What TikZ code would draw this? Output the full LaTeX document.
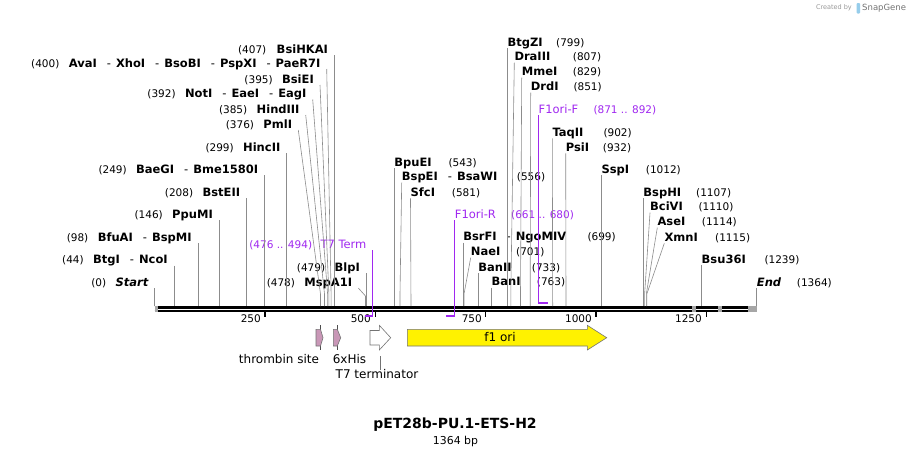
\documentclass[tikz,border=0pt]{standalone}
\usepackage{fontspec}
\setmainfont{DejaVu Sans}
\usetikzlibrary{positioning}

\definecolor{cutgray}{RGB}{140,140,140}
\definecolor{primer}{RGB}{160,40,240}
\definecolor{tagpink}{RGB}{201,151,183}
\definecolor{logoblue}{RGB}{150,205,235}

\newcommand{\sepdash}{\hspace{10pt}{\mdseries -}\hspace{5pt}}

\tikzset{
	enz/.style={inner sep=0pt, text height=8.5pt, text depth=0pt, font=\fontsize{11.5}{13}\selectfont\bfseries},
	num/.style={inner sep=0pt, text height=8.5pt, text depth=0pt, font=\fontsize{10.5}{12}\selectfont},
	prm/.style={inner sep=0pt, text height=8.5pt, text depth=0pt, text=primer, font=\fontsize{11.5}{13}\selectfont},
	cut/.style={draw=cutgray, line width=0.6pt},
	prmline/.style={draw=primer, line width=1.1pt},
	feat/.style={draw=black!55, line width=0.6pt},
	flabel/.style={inner sep=0pt, font=\fontsize{12}{14}\selectfont},
}

\begin{document}
\begin{tikzpicture}[x=1pt,y=-1pt]
	
	\fill[white] (0,0) rectangle (912,456);
	\useasboundingbox (0,0) rectangle (912,456);
	
	% sites on the sequence
	\coordinate (s0) at (154.5,306);
	\coordinate (s44) at (173.9,306);
	\coordinate (s98) at (197.8,306);
	\coordinate (s146) at (219.0,306);
	\coordinate (s208) at (246.3,306);
	\coordinate (s249) at (264.4,306);
	\coordinate (s299) at (286.5,306);
	\coordinate (s376) at (320.5,306);
	\coordinate (s385) at (324.5,306);
	\coordinate (s392) at (327.6,306);
	\coordinate (s395) at (328.9,306);
	\coordinate (s400) at (331.1,306);
	\coordinate (s407) at (334.2,306);
	\coordinate (s478) at (365.5,306);
	\coordinate (s479) at (366.0,306);
	\coordinate (s543) at (394.2,306);
	\coordinate (s556) at (400.0,306);
	\coordinate (s581) at (411.0,306);
	\coordinate (s699) at (463.1,306);
	\coordinate (s701) at (464.0,306);
	\coordinate (s733) at (478.1,306);
	\coordinate (s763) at (491.4,306);
	\coordinate (s799) at (507.3,306);
	\coordinate (s807) at (510.8,306);
	\coordinate (s829) at (520.5,306);
	\coordinate (s851) at (530.2,306);
	\coordinate (s902) at (552.7,306);
	\coordinate (s932) at (566.0,306);
	\coordinate (s1012) at (601.3,306);
	\coordinate (s1107) at (643.2,306);
	\coordinate (s1110) at (644.6,306);
	\coordinate (s1114) at (646.3,306);
	\coordinate (s1115) at (646.8,306);
	\coordinate (s1239) at (701.5,306);
	\coordinate (s1364) at (756.7,306);
	
	% primer ends
	\coordinate (t7a) at (364.7,316);
	\coordinate (t7b) at (372.6,316);
	\coordinate (fra) at (446.3,316);
	\coordinate (frb) at (454.7,316);
	\coordinate (ffa) at (538.5,303);
	\coordinate (ffb) at (548.3,303);
	
	% the sequence
	\draw[line width=2.4pt] (154.5,307.3) -- (756.9,307.3);
	\draw[line width=2.3pt] (154.5,311.2) -- (756.9,311.2);
	\fill[black!35] (154.5,306) rectangle (157.5,312.4);
	\fill[black!35] (692.3,306) rectangle (696,312.4);
	\fill[black!35] (718.3,306) rectangle (721.7,312.4);
	\fill[black!35] (748.3,306) rectangle (756.9,312.4);
	
	% ticks
	\draw[line width=1.5pt] (264.9,311.5) -- (264.9,317);
	\draw[line width=1.5pt] (375.3,311.5) -- (375.3,317);
	\draw[line width=1.5pt] (485.6,311.5) -- (485.6,317);
	\draw[line width=1.5pt] (596.0,311.5) -- (596.0,317);
	\draw[line width=1.5pt] (706.4,311.5) -- (706.4,317);
	\node[num, anchor=east] (t250) at (261,318.5) {250};
	\node[num, anchor=east] (t500) at (371,318.5) {500};
	\node[num, anchor=east] (t750) at (482,318.5) {750};
	\node[num, anchor=east] (t1000) at (592,318.5) {1000};
	\node[num, anchor=east] (t1250) at (702,318.5) {1250};
	
	% L: sites left of their line
	\node[enz, anchor=east] (n407) at (328.2,49) {BsiHKAI};
	\node[num, left=10pt of n407] (p407) {(407)};
	\node[enz, anchor=east] (n400) at (320.7,63) {AvaI\sepdash XhoI\sepdash BsoBI\sepdash PspXI\sepdash PaeR7I};
	\node[num, left=9pt of n400] (p400) {(400)};
	\node[enz, anchor=east] (n395) at (314,79) {BsiEI};
	\node[num, left=9pt of n395] (p395) {(395)};
	\node[enz, anchor=east] (n392) at (306.7,93.5) {NotI\sepdash EaeI\sepdash EagI};
	\node[num, left=9pt of n392] (p392) {(392)};
	\node[enz, anchor=east] (n385) at (299.7,109) {HindIII};
	\node[num, left=9pt of n385] (p385) {(385)};
	\node[enz, anchor=east] (n376) at (292.3,124) {PmlI};
	\node[num, left=9pt of n376] (p376) {(376)};
	\node[enz, anchor=east] (n299) at (280.5,147) {HincII};
	\node[num, left=9pt of n299] (p299) {(299)};
	\node[enz, anchor=east] (n249) at (258.4,169) {BaeGI\sepdash Bme1580I};
	\node[num, left=9pt of n249] (p249) {(249)};
	\node[enz, anchor=east] (n208) at (240.3,192) {BstEII};
	\node[num, left=9pt of n208] (p208) {(208)};
	\node[enz, anchor=east] (n146) at (213,214) {PpuMI};
	\node[num, left=9pt of n146] (p146) {(146)};
	\node[enz, anchor=east] (n98) at (191.8,237) {BfuAI\sepdash BspMI};
	\node[num, left=9pt of n98] (p98) {(98)};
	\node[enz, anchor=east] (n44) at (167.9,259.5) {BtgI\sepdash NcoI};
	\node[num, left=9pt of n44] (p44) {(44)};
	\node[enz, anchor=east] (n0) at (148.5,282) {\itshape Start};
	\node[num, left=9pt of n0] (p0) {(0)};
	\node[enz, anchor=east] (n478) at (352.3,282) {MspA1I};
	\node[num, left=9pt of n478] (p478) {(478)};
	\node[enz, anchor=east] (n479) at (360,267) {BlpI};
	\node[num, left=9pt of n479] (p479) {(479)};
	\node[prm, anchor=east] (t7term) at (366.6,244) {T7 Term};
	\node[prm, font=\fontsize{10.5}{12}\selectfont, left=8pt of t7term] (t7pos) {(476 .. 494)};
	
	\draw[cut] ([xshift=6pt,yshift=-6pt]n407.east) -- (s407);
	\draw[cut] ([xshift=6pt,yshift=-6pt]n400.east) -- ([yshift=12pt]s400) -- (s400);
	\draw[cut] ([xshift=6pt,yshift=-6pt]n395.east) -- ([yshift=12pt]s395) -- (s395);
	\draw[cut] ([xshift=6pt,yshift=-6pt]n392.east) -- ([yshift=12pt]s392) -- (s392);
	\draw[cut] ([xshift=6pt,yshift=-6pt]n385.east) -- ([yshift=12pt]s385) -- (s385);
	\draw[cut] ([xshift=6pt,yshift=-6pt]n376.east) -- ([yshift=12pt]s376) -- (s376);
	\draw[cut] ([xshift=6pt,yshift=-6pt]n299.east) -- (s299);
	\draw[cut] ([xshift=6pt,yshift=-6pt]n249.east) -- (s249);
	\draw[cut] ([xshift=6pt,yshift=-6pt]n208.east) -- (s208);
	\draw[cut] ([xshift=6pt,yshift=-6pt]n146.east) -- (s146);
	\draw[cut] ([xshift=6pt,yshift=-6pt]n98.east) -- (s98);
	\draw[cut] ([xshift=6pt,yshift=-6pt]n44.east) -- (s44);
	\draw[cut] ([xshift=6pt,yshift=-6pt]n0.east) -- (s0);
	\draw[cut] ([xshift=6pt,yshift=-6pt]n478.east) -- ([yshift=10pt]s478) -- (s478);
	\draw[cut] ([xshift=6pt,yshift=-6pt]n479.east) -- (s479);
	\draw[prmline] ([xshift=6pt,yshift=-6pt]t7term.east) -- (t7b);
	\draw[primer, line width=2pt] (t7a) -- ([xshift=0.55pt]t7b);
	
	% R: sites right of their line
	\node[enz, anchor=west] (n799) at (507.3,42.3) {BtgZI};
	\node[num, anchor=west] (p799) at (556,42.3) {(799)};
	\node[enz, anchor=west] (n807) at (514.3,56.7) {DraIII};
	\node[num, anchor=west] (p807) at (572.7,56.7) {(807)};
	\node[enz, anchor=west] (n829) at (521.7,71.7) {MmeI};
	\node[num, anchor=west] (p829) at (572.7,71.7) {(829)};
	\node[enz, anchor=west] (n851) at (530.7,86.7) {DrdI};
	\node[num, anchor=west] (p851) at (573.3,86.7) {(851)};
	\node[prm, anchor=west] (f1f) at (538.5,109) {F1ori-F};
	\node[prm, font=\fontsize{10.5}{12}\selectfont, anchor=west] (f1fpos) at (593.3,109) {(871 .. 892)};
	\node[enz, anchor=west] (n902) at (552.3,132.3) {TaqII};
	\node[num, anchor=west] (p902) at (603.3,132.3) {(902)};
	\node[enz, anchor=west] (n932) at (565.7,147.3) {PsiI};
	\node[num, anchor=west] (p932) at (602.7,147.3) {(932)};
	\node[enz, anchor=west] (n1012) at (601.3,169) {SspI};
	\node[num, anchor=west] (p1012) at (645.7,169) {(1012)};
	\node[enz, anchor=west] (n543) at (394.2,162.3) {BpuEI};
	\node[num, anchor=west] (p543) at (448.3,162.3) {(543)};
	\node[enz, anchor=west] (n556) at (401.7,176.7) {BspEI\sepdash BsaWI};
	\node[num, anchor=west] (p556) at (516.7,176.7) {(556)};
	\node[enz, anchor=west] (n581) at (410.5,192.3) {SfcI};
	\node[num, anchor=west] (p581) at (451.7,192.3) {(581)};
	\node[prm, anchor=west] (f1r) at (454.7,214) {F1ori-R};
	\node[prm, font=\fontsize{10.5}{12}\selectfont, anchor=west] (f1rpos) at (511,214) {(661 .. 680)};
	\node[enz, anchor=west] (n699) at (463.1,236.7) {BsrFI\sepdash NgoMIV};
	\node[num, anchor=west] (p699) at (587.3,236.7) {(699)};
	\node[enz, anchor=west] (n701) at (470.7,251.7) {NaeI};
	\node[num, anchor=west] (p701) at (516,251.7) {(701)};
	\node[enz, anchor=west] (n733) at (478.1,267.3) {BanII};
	\node[num, anchor=west] (p733) at (531.7,267.3) {(733)};
	\node[enz, anchor=west] (n763) at (491.4,281.7) {BanI};
	\node[num, anchor=west] (p763) at (536.7,281.7) {(763)};
	\node[enz, anchor=west] (n1107) at (643.2,192.3) {BspHI};
	\node[num, anchor=west] (p1107) at (696,192.3) {(1107)};
	\node[enz, anchor=west] (n1110) at (650,206.7) {BciVI};
	\node[num, anchor=west] (p1110) at (698.3,206.7) {(1110)};
	\node[enz, anchor=west] (n1114) at (657.3,221.7) {AseI};
	\node[num, anchor=west] (p1114) at (701.7,221.7) {(1114)};
	\node[enz, anchor=west] (n1115) at (664.3,237.3) {XmnI};
	\node[num, anchor=west] (p1115) at (715,237.3) {(1115)};
	\node[enz, anchor=west] (n1239) at (701.5,259) {Bsu36I};
	\node[num, anchor=west] (p1239) at (764.3,259) {(1239)};
	\node[enz, anchor=west] (n1364) at (756.7,282.3) {\itshape End};
	\node[num, anchor=west] (p1364) at (796.7,282.3) {(1364)};
	
	\draw[cut] ([yshift=-6pt]n799.west) -- (s799);
	\draw[cut] ([yshift=-6pt]n807.west) -- ([yshift=12pt]s807) -- (s807);
	\draw[cut] ([yshift=-6pt]n829.west) -- ([yshift=12pt]s829) -- (s829);
	\draw[cut] ([yshift=-6pt]n851.west) -- ([yshift=12pt]s851) -- (s851);
	\draw[cut] ([yshift=-6pt]n902.west) -- (s902);
	\draw[cut] ([yshift=-6pt]n932.west) -- (s932);
	\draw[cut] ([yshift=-6pt]n1012.west) -- (s1012);
	\draw[cut] ([yshift=-6pt]n543.west) -- (s543);
	\draw[cut] ([yshift=-6pt]n556.west) -- ([yshift=12pt]s556) -- (s556);
	\draw[cut] ([yshift=-6pt]n581.west) -- (s581);
	\draw[cut] ([yshift=-6pt]n699.west) -- (s699);
	\draw[cut] ([yshift=-6pt]n701.west) -- ([yshift=12pt]s701) -- (s701);
	\draw[cut] ([yshift=-6pt]n733.west) -- (s733);
	\draw[cut] ([yshift=-6pt]n763.west) -- (s763);
	\draw[cut] ([yshift=-6pt]n1107.west) -- (s1107);
	\draw[cut] ([yshift=-6pt]n1110.west) -- ([yshift=12pt]s1110) -- (s1110);
	\draw[cut] ([yshift=-6pt]n1114.west) -- ([yshift=12pt]s1114) -- (s1114);
	\draw[cut] ([yshift=-6pt]n1115.west) -- ([yshift=12pt]s1115) -- (s1115);
	\draw[cut] ([yshift=-6pt]n1239.west) -- (s1239);
	\draw[cut] ([yshift=-6pt]n1364.west) -- (s1364);
	\draw[prmline] ([yshift=-6pt]f1f.west) -- (ffa);
	\draw[primer, line width=2pt] ([xshift=-0.55pt]ffa) -- (ffb);
	\draw[prmline] ([yshift=-6pt]f1r.west) -- (frb);
	\draw[primer, line width=2pt] (fra) -- ([xshift=0.55pt]frb);
	
	% features
	\draw[black!70, line width=0.6pt] (320.5,325) -- (320.5,350);
	\draw[feat, fill=tagpink] (316,329.3) -- (320.5,329.3) -- (323,337.7) -- (320.5,346) -- (316,346) -- cycle;
	\draw[black!70, line width=0.6pt] (337.3,325) -- (337.3,350);
	\draw[feat, fill=tagpink] (333.3,329.3) -- (337.3,329.3) -- (340.7,337.7) -- (337.3,346) -- (333.3,346) -- cycle;
	\draw[feat, fill=white] (370,330.5) -- (379.3,330.5) -- (379.3,325.3) -- (390.7,337.7) -- (379.3,350) -- (379.3,345) -- (370,345) -- cycle;
	\draw[feat, fill=yellow] (407.3,329.3) -- (587.3,329.3) -- (587.3,325.3) -- (606.7,337.7) -- (587.3,350) -- (587.3,346) -- (407.3,346) -- cycle;
	\coordinate (t7foot) at (380,356);
	
	\node[flabel] (thr) at (279,359) {thrombin site};
	\node[flabel] (his) at (349.5,359) {6xHis};
	\node[flabel] (t7lbl) at (377,374.5) {T7 terminator};
	\node[flabel] (f1lbl) at (500,337.5) {f1 ori};
	\draw[black!55, line width=0.6pt] (t7foot) -- ([xshift=3pt]t7lbl.north);
	
	% name
	\node[font=\fontsize{14}{16}\selectfont\bfseries] (title) at (455,425) {pET28b-PU.1-ETS-H2};
	\node[font=\fontsize{10.9}{12}\selectfont] (size) at (455.5,441) {1364 bp};
	
	\node[anchor=east, inner sep=0pt, text=black!40, font=\fontsize{6.5}{8}\selectfont] (made) at (852,8) {Created by};
	\fill[logoblue, rounded corners=1pt] (856.5,3) rectangle (860,13.5);
	\node[anchor=west, inner sep=0pt, text=black!55, font=\fontsize{8.5}{10}\selectfont] (snap) at (862,8) {SnapGene};
	
\end{tikzpicture}
\end{document}
